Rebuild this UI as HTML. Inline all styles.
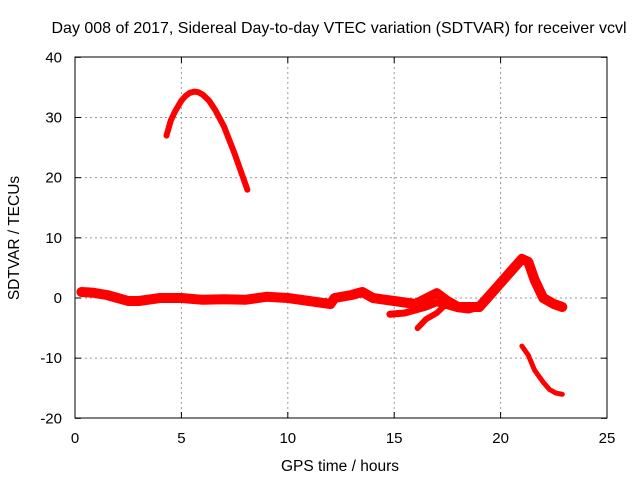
<!DOCTYPE html>
<html><head><meta charset="utf-8"><style>
html,body{margin:0;padding:0;background:#fff;}
svg{display:block;font-family:"Liberation Sans",sans-serif;}
</style></head><body>
<svg id="chart" width="640" height="480">
<text x="339" y="33" font-size="16" text-anchor="middle">Day 008 of 2017, Sidereal Day-to-day VTEC variation (SDTVAR) for receiver vcvl</text>
<text x="340" y="471" font-size="15.5" text-anchor="middle">GPS time / hours</text>
<text transform="translate(19,238) rotate(-90)" font-size="15.5" text-anchor="middle">SDTVAR / TECUs</text>
<g id="grid"></g>
<g id="ticks"></g>
<g id="series"></g>
<rect x="75" y="57" width="532" height="361" fill="none" stroke="#000" stroke-width="1"/>
</svg>
<script>
const xTicks=[0,5,10,15,20,25];
const yTicks=[-20,-10,0,10,20,30,40];
const mainX=[0.3,0.8,1.5,2,2.5,3,4,5,6,7,8,9,10,11,12,12.2,13,13.5,14,15,16,17,17.5,18,19,19.5,20,20.5,21,21.3,21.6,22,22.5,22.9];
const mainY=[1,0.9,0.5,0,-0.5,-0.5,0,0,-0.3,-0.2,-0.3,0.2,0,-0.5,-1,0,0.5,1,0,-0.5,-1,0.8,-0.5,-1.5,-1.5,0.5,2.5,4.5,6.5,6,3,0,-1,-1.5];
const loopX=[14.8,15.5,16.5,17,17.5,18,18.5,19];
const loopY=[-2.7,-2.5,-1.5,-0.8,-1.3,-1.8,-2,-1.5];
const branchX=[16.1,16.5,17,17.3];
const branchY=[-5,-3.5,-2.5,-1.5];
const lowX=[21,21.3,21.6,22,22.3,22.6,22.9];
const lowY=[-8,-9.5,-12,-14,-15.2,-15.8,-16];
const topX=[4.3,4.5,4.7,5,5.2,5.4,5.6,5.8,6,6.3,6.6,7,7.5,8.1];
const topY=[27,29.5,31,32.8,33.6,34.1,34.3,34.2,33.8,32.8,31.2,28.5,24,18];
const sx=v=>75+v*(532/25);
const sy=v=>298-v*(361/60);
const NS="http://www.w3.org/2000/svg";
function mk(tag,attrs,parent){const e=document.createElementNS(NS,tag);for(const k in attrs)e.setAttribute(k,attrs[k]);parent.appendChild(e);return e;}
const grid=document.getElementById('grid'),ticks=document.getElementById('ticks'),series=document.getElementById('series');
xTicks.forEach(t=>{
  const x=sx(t);
  if(t>0&&t<25){const g=mk('line',{x1:x,x2:x,y1:57,y2:418,stroke:'#999','stroke-dasharray':'2,3'},grid);
  
  }
  const l=mk('text',{x:x,y:443,'font-size':'15','text-anchor':'middle'},ticks);l.textContent=t;
  
  
  mk('line',{x1:x,x2:x,y1:418,y2:412,stroke:'#000'},ticks);
  mk('line',{x1:x,x2:x,y1:57,y2:63,stroke:'#000'},ticks);
});
yTicks.forEach(t=>{
  const y=sy(t);
  if(t>-20&&t<40){const g=mk('line',{x1:75,x2:607,y1:y,y2:y,stroke:'#999','stroke-dasharray':'2,3'},grid);
  
  }
  const l=mk('text',{x:62,y:y+5,'font-size':'15','text-anchor':'end'},ticks);l.textContent=t;
  
  
  mk('line',{x1:75,x2:81,y1:y,y2:y,stroke:'#000'},ticks);
  mk('line',{x1:601,x2:607,y1:y,y2:y,stroke:'#000'},ticks);
});
function drawSeries(xs,ys,w,name){
  const d=xs.map((x,i)=>(i?'L':'M')+sx(x).toFixed(1)+','+sy(ys[i]).toFixed(1)).join('');
  const p=mk('path',{d:d,fill:'none',stroke:'#f00','stroke-width':w,'stroke-linejoin':'round','stroke-linecap':'round'},series);
  
  
}
drawSeries(mainX,mainY,10,'main-series');
drawSeries(loopX,loopY,7,'loop-series');
drawSeries(branchX,branchY,6,'branch-series');
drawSeries(lowX,lowY,5,'low-series');
drawSeries(topX,topY,6,'top-series');
</script>
</body></html>
